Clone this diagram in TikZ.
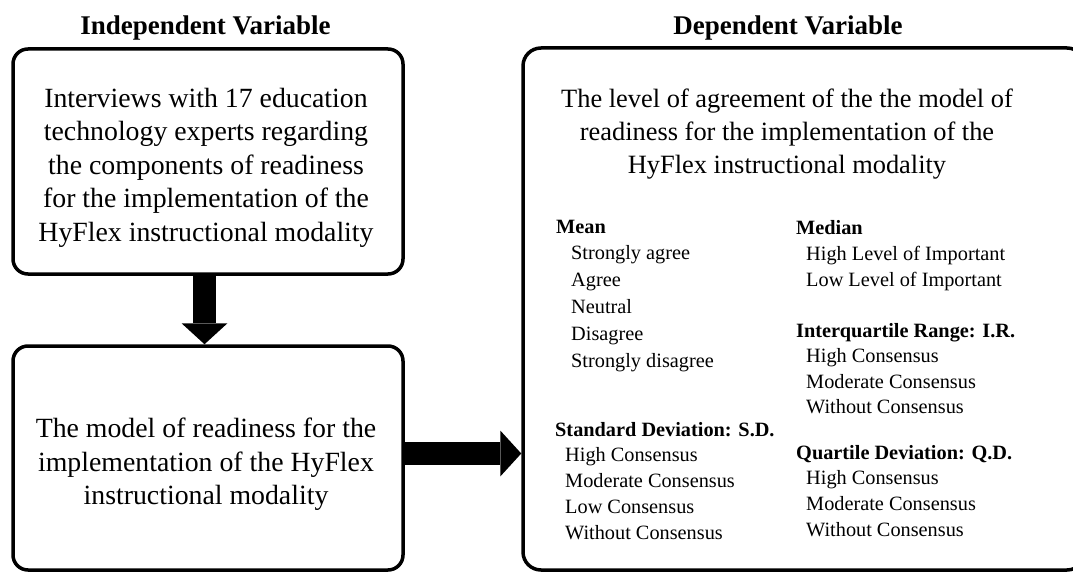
\documentclass[tikz,border=0pt]{standalone}
\usepackage{fontspec}
\setmainfont{Liberation Serif}
\usetikzlibrary{arrows.meta,calc}
\begin{document}
\begin{tikzpicture}[x=1pt,y=-1pt,
  leftbox/.style={draw=black,line width=3.5pt,rounded corners=15pt,inner sep=0pt},
  rightbox/.style={draw=black,line width=3.5pt,rounded corners=18pt,inner sep=0pt},
  fatarrow/.style={draw=black,line width=23pt,-{Triangle[length=21pt,width=46pt,line width=0pt]}},
  titletext/.style={font=\fontsize{27}{32}\selectfont\bfseries,inner sep=0pt,anchor=base},
  bodytext/.style={font=\fontsize{27.8}{33.4}\selectfont,align=center,inner sep=0pt,anchor=north},
  listtext/.style={align=left,inner sep=0pt,anchor=north west}]
\useasboundingbox (0,0) rectangle (1073,572);
\fill[white] (0,0) rectangle (1073,572);
\clip (0,0) rectangle (1073,572);

% titles
\node[titletext] (tiv) at (205.5,35) {Independent Variable};
\node[titletext] (tdv) at (788,35) {Dependent Variable};

% boxes
\node[leftbox,minimum width=390pt,minimum height=225pt] (box1) at (208,161.5) {};
\node[leftbox,minimum width=390pt,minimum height=224pt] (box2) at (208,458) {};
\node[rightbox,minimum width=562pt,minimum height=522pt] (rbox) at (804,309) {};

% box texts
\node[bodytext] (t1) at (206,88) {Interviews with 17 education\\technology experts regarding\\the components of readiness\\for the implementation of the\\HyFlex instructional modality};
\node[bodytext] (t2) at (206,418) {The model of readiness for the\\implementation of the HyFlex\\instructional modality};
\node[bodytext,font=\fontsize{26.4}{33}\selectfont] (t3) at (787,89) {The level of agreement of the the model of\\readiness for the implementation of the\\HyFlex instructional modality};

% lists
\node[listtext,font=\fontsize{20.3}{26.8}\selectfont] (mean) at (556,219.6) {\textbf{Mean}\\\hspace*{15pt}Strongly agree\\\hspace*{15pt}Agree\\\hspace*{15pt}Neutral\\\hspace*{15pt}Disagree\\\hspace*{15pt}Strongly disagree};
\node[listtext,font=\fontsize{20.3}{25.7}\selectfont] (sd) at (555,422) {\textbf{Standard Deviation: S.D.}\\\hspace*{10pt}High Consensus\\\hspace*{10pt}Moderate Consensus\\\hspace*{10pt}Low Consensus\\\hspace*{10pt}Without Consensus};
\node[listtext,font=\fontsize{20.3}{26}\selectfont] (median) at (796,220) {\textbf{Median}\\\hspace*{10pt}High Level of Important\\\hspace*{10pt}Low Level of Important};
\node[listtext,font=\fontsize{20.3}{25.5}\selectfont] (ir) at (796,323) {\textbf{Interquartile Range: I.R.}\\\hspace*{10pt}High Consensus\\\hspace*{10pt}Moderate Consensus\\\hspace*{10pt}Without Consensus};
\node[listtext,font=\fontsize{20.3}{25.7}\selectfont] (qd) at (796,445) {\textbf{Quartile Deviation: Q.D.}\\\hspace*{10pt}High Consensus\\\hspace*{10pt}Moderate Consensus\\\hspace*{10pt}Without Consensus};

% arrows
\coordinate (va) at ([xshift=-3.5pt]box1.south);
\coordinate (vb) at ([xshift=-3.5pt]box2.north);
\draw[fatarrow] (va) -- (vb);
\coordinate (ha) at ([yshift=4.5pt]box2.east);
\draw[fatarrow] (ha) -- (ha -| rbox.west);
\end{tikzpicture}
\end{document}
